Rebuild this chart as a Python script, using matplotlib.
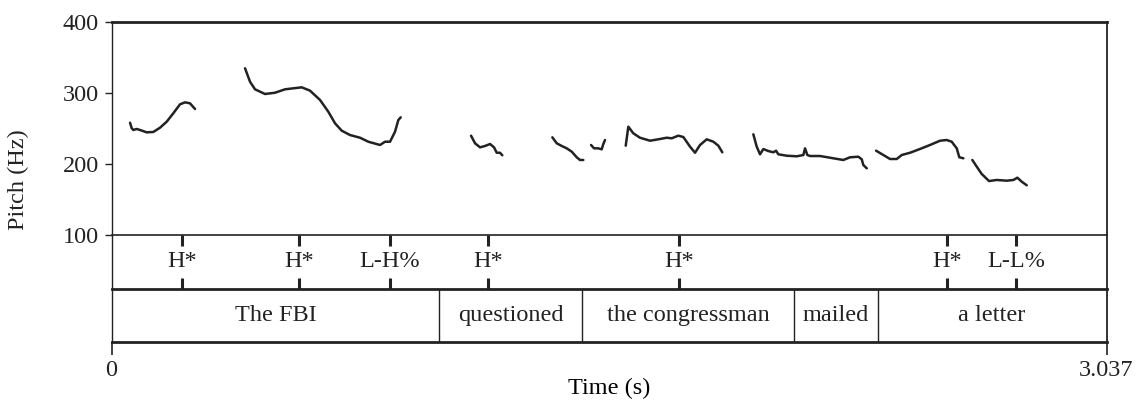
import matplotlib as mpl

mpl.use("Agg")

import matplotlib.pyplot as plt

# pitch track, one list per voiced stretch (time in s, pitch in Hz)
PITCH_TIMES = [
    [0.0565, 0.0617, 0.0665, 0.0769, 0.0870, 0.1074, 0.1276, 0.1480, 0.1685, 0.1886, 0.2091, 0.2243, 0.2396, 0.2549],
    [0.4075, 0.4227, 0.4380, 0.4685, 0.4991, 0.5296, 0.5549, 0.5805, 0.6059, 0.6364, 0.6617, 0.6822, 0.7026, 0.7280,
     0.7585, 0.7838, 0.8195, 0.8348, 0.8501, 0.8653, 0.8754, 0.8827],
    [1.0973, 1.1095, 1.1248, 1.1401, 1.1553, 1.1675, 1.1757, 1.1858, 1.1928],
    [1.3455, 1.3589, 1.3742, 1.3894, 1.4047, 1.4199, 1.4300, 1.4401],
    [1.4636, 1.4727, 1.4859, 1.4962, 1.5011, 1.5063],
    [1.5695, 1.5774, 1.5927, 1.6131, 1.6437, 1.6690, 1.6946, 1.7099, 1.7300, 1.7453, 1.7658, 1.7810, 1.7963, 1.8167,
     1.8369, 1.8522, 1.8643],
    [1.9590, 1.9693, 1.9794, 1.9895, 2.0047, 2.0200, 2.0283, 2.0353, 2.0609, 2.0915, 2.1116, 2.1168, 2.1238, 2.1320,
     2.1626, 2.2032, 2.2337, 2.2541, 2.2795, 2.2898, 2.2947, 2.3052],
    [2.3335, 2.3558, 2.3762, 2.3967, 2.4119, 2.4373, 2.4678, 2.4983, 2.5288, 2.5493, 2.5645, 2.5798, 2.5877, 2.6000],
    [2.6274, 2.6409, 2.6561, 2.6784, 2.7019, 2.7324, 2.7526, 2.7648, 2.7782, 2.7935],
]
PITCH_HZ = [
    [257.9, 250.1, 247.7, 249.1, 247.7, 244.4, 244.9, 250.9, 259.4, 271.2, 283.8, 286.6, 285.2, 277.2],
    [334.5, 315.6, 304.9, 298.3, 300.1, 304.9, 306.3, 307.7, 303.0, 289.9, 273.4, 257.1, 246.7, 240.6,
     236.8, 231.2, 226.6, 231.2, 231.2, 245.3, 261.7, 265.5],
    [239.7, 229.0, 223.3, 225.2, 228.0, 223.3, 215.7, 215.7, 212.1],
    [237.4, 229.0, 225.2, 221.9, 217.2, 209.3, 205.5, 205.5],
    [226.6, 221.9, 221.9, 220.5, 228.0, 233.6],
    [225.6, 252.3, 243.0, 236.8, 232.6, 234.6, 236.8, 236.0, 239.7, 237.8, 224.2, 215.7, 226.6, 234.6,
     231.2, 225.6, 216.3],
    [241.6, 224.2, 213.5, 220.9, 218.1, 216.3, 218.6, 213.5, 211.5, 210.7, 212.5, 221.9, 212.5, 211.1,
     211.1, 207.9, 205.5, 209.3, 210.1, 206.5, 198.4, 193.8],
    [218.6, 212.5, 206.9, 206.9, 212.5, 215.7, 221.0, 226.6, 232.6, 233.6, 231.2, 221.9, 209.3, 207.9],
    [205.5, 196.1, 185.8, 175.9, 177.4, 176.4, 177.4, 180.6, 175.0, 169.9],
]

TONE_TIMES = [0.215, 0.572, 0.850, 1.149, 1.732, 2.550, 2.761]
TONE_LABELS = ["H*", "H*", "L-H%", "H*", "H*", "H*", "L-L%"]

WORD_BOUNDS = [0.0, 1.001, 1.436, 2.083, 2.338, 3.037]
WORD_LABELS = ["The FBI", "questioned", "the congressman", "mailed", "a letter"]

T_END = 3.037
INK = "#222222"
FS = 17.5

plt.rcParams["font.family"] = ["Liberation Serif", "DejaVu Serif"]
plt.rcParams["text.color"] = INK


def style_spines(ax, widths):
    for name, spine in ax.spines.items():
        if name in widths:
            spine.set_linewidth(widths[name])
            spine.set_color(INK)
        else:
            spine.set_visible(False)


fig = plt.figure(figsize=(11.45, 4.04), dpi=100)
left, width = 0.0974, 0.8690
ax_p = fig.add_axes([left, 0.4183, width, 0.5280])
ax_t = fig.add_axes([left, 0.2847, width, 0.1336])
ax_w = fig.add_axes([left, 0.1535, width, 0.1312])
ax_t.patch.set_visible(False)
ax_w.patch.set_visible(False)

# pitch panel
for ts, hz in zip(PITCH_TIMES, PITCH_HZ):
    ax_p.plot(ts, hz, color=INK, lw=1.8, solid_capstyle="round", solid_joinstyle="round")
ax_p.set_xlim(0, T_END)
ax_p.set_ylim(100, 400)
ax_p.set_yticks([100, 200, 300, 400])
ax_p.set_xticks([])
ax_p.tick_params(axis="y", direction="out", length=5, width=1.0, colors=INK, labelsize=FS, pad=4)
style_spines(ax_p, {"top": 2.0, "left": 1.0, "right": 1.3, "bottom": 1.2})

# tone tier
ax_t.set_xlim(0, T_END)
ax_t.set_ylim(0, 1)
ax_t.set_xticks([])
ax_t.set_yticks([])
ax_t.vlines(TONE_TIMES, 0.8, 1.0, color=INK, lw=2.2)
ax_t.vlines(TONE_TIMES, 0.0, 0.2, color=INK, lw=2.2)
for t, lab in zip(TONE_TIMES, TONE_LABELS):
    ax_t.text(t, 0.5, lab, ha="center", va="center", fontsize=FS)
style_spines(ax_t, {"left": 1.0, "right": 1.3, "bottom": 2.0})

# word tier
ax_w.set_xlim(0, T_END)
ax_w.set_ylim(0, 1)
ax_w.set_yticks([])
ax_w.vlines(WORD_BOUNDS[1:-1], 0, 1, color=INK, lw=1.0)
for a, b, lab in zip(WORD_BOUNDS[:-1], WORD_BOUNDS[1:], WORD_LABELS):
    ax_w.text((a + b) / 2, 0.5, lab, ha="center", va="center", fontsize=FS)
style_spines(ax_w, {"left": 1.0, "right": 1.3, "bottom": 2.0})
ax_w.set_xticks([0, T_END])
ax_w.set_xticklabels(["0", "3.037"])
ax_w.tick_params(axis="x", direction="out", length=9, width=1.2, colors=INK, labelsize=FS, pad=4)
ax_w.set_xlabel("Time (s)", fontsize=FS, labelpad=-2)

fig.text(18 / 1145, 1 - 180 / 404, "Pitch (Hz)", rotation=90, ha="center", va="center", fontsize=FS)

fig.savefig("out.png", dpi=100)
